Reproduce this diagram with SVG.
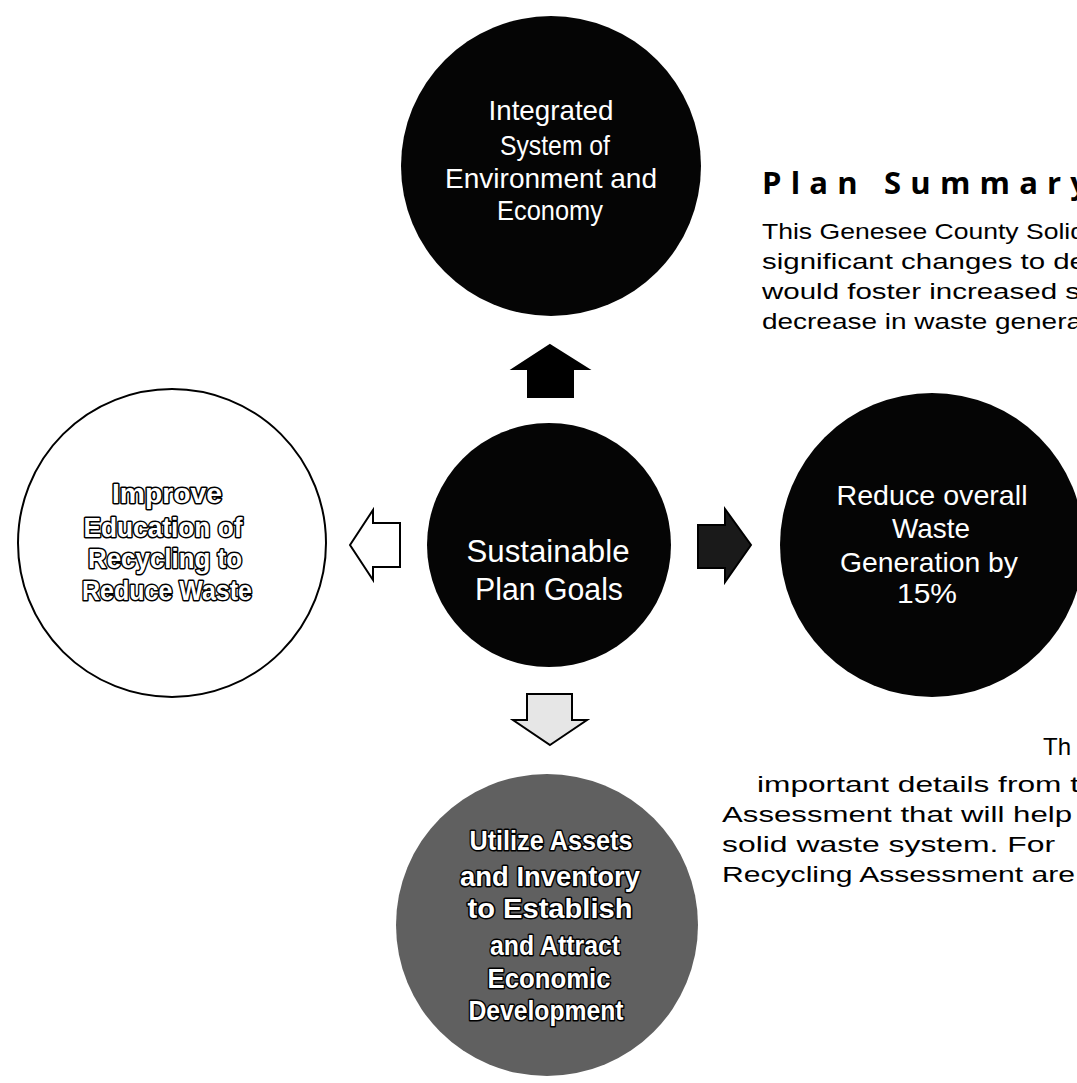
<svg xmlns="http://www.w3.org/2000/svg" width="1077" height="1083" viewBox="0 0 1077 1083">
<style>
.dark{fill:#050505}
.lbl{font-family:"Liberation Sans",Arial,sans-serif;font-size:28px;fill:#fff;text-anchor:middle}
.out{font-family:"Liberation Sans",Arial,sans-serif;font-size:27px;font-weight:bold;fill:#fff;stroke:#000;stroke-width:3;paint-order:stroke;stroke-linejoin:round;text-anchor:middle}
.body{font-family:"Liberation Sans",Arial,sans-serif;font-size:22px;fill:#000}
.head{font-family:"Open Sans","Liberation Sans",Arial,sans-serif;font-size:31px;font-weight:bold;fill:#000}
</style>
<rect width="1077" height="1083" fill="#fff"/>

<g id="node-integrated">
<circle cx="551" cy="166" r="150" class="dark"/>
<text class="lbl" x="551" y="120" textLength="125" lengthAdjust="spacingAndGlyphs">Integrated</text>
<text class="lbl" x="555" y="155" textLength="110" lengthAdjust="spacingAndGlyphs">System of</text>
<text class="lbl" x="551" y="188" textLength="212" lengthAdjust="spacingAndGlyphs">Environment and</text>
<text class="lbl" x="550" y="220" textLength="106" lengthAdjust="spacingAndGlyphs">Economy</text>
</g>

<g id="node-center">
<circle cx="549" cy="545" r="122" class="dark"/>
<text class="lbl" style="font-size:31px" x="548" y="562" textLength="163" lengthAdjust="spacingAndGlyphs">Sustainable</text>
<text class="lbl" style="font-size:31px" x="549" y="600" textLength="148" lengthAdjust="spacingAndGlyphs">Plan Goals</text>
</g>

<g id="node-reduce">
<circle cx="932" cy="545" r="152" class="dark"/>
<text class="lbl" x="932" y="505" textLength="191" lengthAdjust="spacingAndGlyphs">Reduce overall</text>
<text class="lbl" x="931" y="538" textLength="78" lengthAdjust="spacingAndGlyphs">Waste</text>
<text class="lbl" x="929" y="572" textLength="178" lengthAdjust="spacingAndGlyphs">Generation by</text>
<text class="lbl" x="927" y="603" textLength="60" lengthAdjust="spacingAndGlyphs">15%</text>
</g>

<g id="node-education">
<circle cx="172" cy="543" r="154" fill="#fff" stroke="#000" stroke-width="2"/>
<text class="out" x="167" y="503" textLength="110" lengthAdjust="spacingAndGlyphs">Improve</text>
<text class="out" x="163" y="537" textLength="159" lengthAdjust="spacingAndGlyphs">Education of</text>
<text class="out" x="165" y="568" textLength="154" lengthAdjust="spacingAndGlyphs">Recycling to</text>
<text class="out" x="167" y="600" textLength="170" lengthAdjust="spacingAndGlyphs">Reduce Waste</text>
</g>

<g id="node-assets">
<circle cx="547" cy="925" r="151" fill="#606060"/>
<text class="out" x="551" y="850" textLength="163" lengthAdjust="spacingAndGlyphs">Utilize Assets</text>
<text class="out" x="550" y="886" textLength="180" lengthAdjust="spacingAndGlyphs">and Inventory</text>
<text class="out" x="550" y="918" textLength="165" lengthAdjust="spacingAndGlyphs">to Establish</text>
<text class="out" x="555" y="955" textLength="130" lengthAdjust="spacingAndGlyphs">and Attract</text>
<text class="out" x="549" y="988" textLength="123" lengthAdjust="spacingAndGlyphs">Economic</text>
<text class="out" x="546" y="1020" textLength="155" lengthAdjust="spacingAndGlyphs">Development</text>
</g>

<g id="connectors" stroke="#000" stroke-width="2" stroke-linejoin="miter">
<polygon points="550,345 588,369 573,369 573,397 528,397 528,369 513,369" fill="#000"/>
<polygon points="751,545 725,582 725,568 698,568 698,525 725,525 725,509" fill="#1a1a1a"/>
<polygon points="350,545 373,510 373,523 400,523 400,567 373,567 373,580" fill="#fff"/>
<polygon points="550,745 587,720 572,720 572,694 527,694 527,720 513,720" fill="#e6e6e6"/>
</g>

<g id="summary">
<text class="head" x="762" y="194" textLength="326" lengthAdjust="spacing">Plan Summary</text>
<text class="body" x="762" y="239" textLength="323" lengthAdjust="spacingAndGlyphs">This Genesee County Solid</text>
<text class="body" x="762" y="269" textLength="324" lengthAdjust="spacingAndGlyphs">significant changes to de</text>
<text class="body" x="762" y="299" textLength="318" lengthAdjust="spacingAndGlyphs">would foster increased s</text>
<text class="body" x="762" y="329" textLength="320" lengthAdjust="spacingAndGlyphs">decrease in waste genera</text>
<text class="body" style="font-size:24px" x="1043" y="755">Th</text>
<text class="body" x="757" y="792" textLength="322" lengthAdjust="spacingAndGlyphs">important details from t</text>
<text class="body" x="722" y="822" textLength="350" lengthAdjust="spacingAndGlyphs">Assessment that will help</text>
<text class="body" x="722" y="852" textLength="333" lengthAdjust="spacingAndGlyphs">solid waste system. For</text>
<text class="body" x="722" y="882" textLength="353" lengthAdjust="spacingAndGlyphs">Recycling Assessment are</text>
</g>
</svg>
